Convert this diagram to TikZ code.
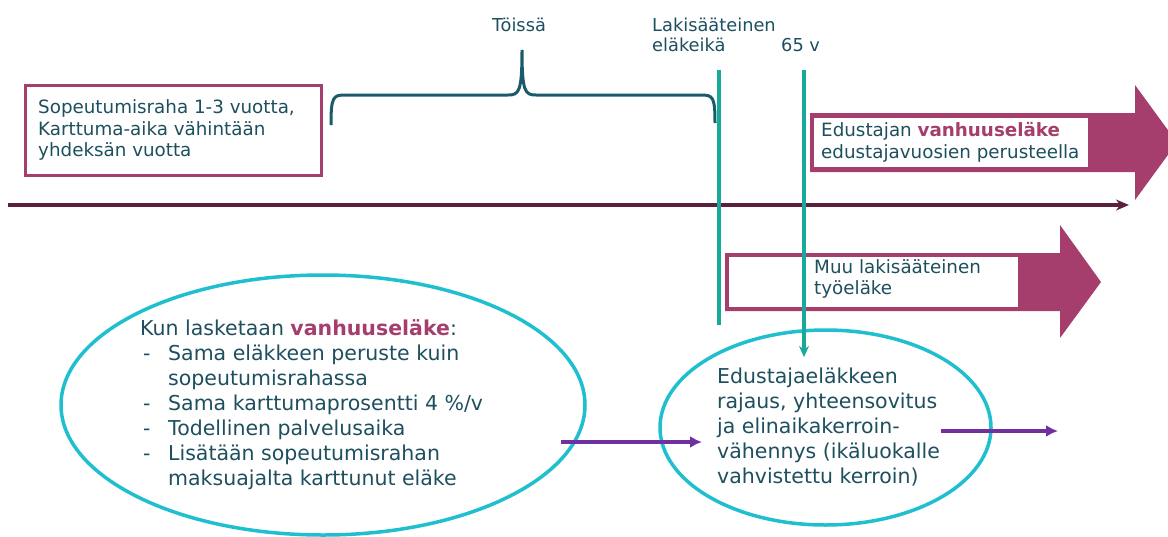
\documentclass[tikz,border=0pt]{standalone}
\usepackage{fontspec}
\setmainfont{DejaVu Sans}
\usetikzlibrary{arrows.meta,shapes.geometric}
\definecolor{txt}{HTML}{1D4F5E}
\definecolor{mag}{HTML}{A53D6D}
\definecolor{bracec}{HTML}{1A5A6B}
\definecolor{grn}{HTML}{18A999}
\definecolor{cyn}{HTML}{1FBFD0}
\definecolor{purp}{HTML}{7030A0}
\definecolor{tline}{HTML}{5C1F3E}
\newcommand\dashitem{\makebox[28pt][l]{\hspace{3pt}-}}
\begin{document}
\begin{tikzpicture}[x=1pt,y=-1pt,
  lbl/.style={text=txt, inner sep=0pt, font=\fontsize{18.3}{21.5}\selectfont, align=left},
  toplbl/.style={text=txt, inner sep=0pt, font=\fontsize{17.8}{20.5}\selectfont, align=left},
  big/.style={text=txt, inner sep=0pt, font=\fontsize{20.5}{25}\selectfont, align=left},
  magbox/.style={draw=mag, line width=3pt, fill=white, rectangle, inner sep=0pt},
  whitebox/.style={fill=white, draw=none, rectangle, inner sep=0pt},
  ell/.style={ellipse, draw=cyn, line width=3.5pt, inner sep=0pt},
  gline/.style={draw=grn, line width=3.2pt},
  parrow/.style={draw=purp, line width=4pt, -{Latex[length=12pt,width=12pt]}},
  bracepath/.style={draw=bracec, line width=3pt}
]
\useasboundingbox (0,0) rectangle (1168,536);
\clip (0,0) rectangle (1168,536);

% top labels
\node[toplbl] (toissa) at (519,25) {Töissä};
\node[toplbl, anchor=west] (lakis) at (652,35) {Lakisääteinen\\eläkeikä};
\node[toplbl, anchor=west] (v65) at (781,45) {65 v};

% left box
\node[magbox, minimum width=296pt, minimum height=90pt] (sopeu) at (173,130) {};
\node[lbl, anchor=west] (sopeutxt) at (38,130) {Sopeutumisraha 1-3 vuotta,\\Karttuma-aika vähintään\\yhdeksän vuotta};

% brace
\draw[bracepath] (331,125) .. controls (331,97) and (333,95) .. (345,95) -- (508,95)
  .. controls (519,95) and (522,92) .. (522,50)
  .. controls (522,92) and (525,95) .. (536,95) -- (701,95)
  .. controls (713,95) and (715,97) .. (715,123);

% timeline
\coordinate (tstart) at (8,205);
\coordinate (tend) at (1129,205);
\draw[tline, line width=4pt, -{Stealth[length=13pt,width=11pt]}] (tstart) -- (tend);

% arrow 1
\fill[mag] (810,113) -- (1135,113) -- (1135,85) -- (1177,142.5) -- (1135,200) -- (1135,172) -- (810,172) -- cycle;
\node[whitebox, minimum width=274pt, minimum height=49pt] (edu) at (951,142.5) {};
\node[lbl, anchor=west] (edutxt) at (821,142.5) {Edustajan \textcolor{mag}{\textbf{vanhuuseläke}}\\edustajavuosien perusteella};

% arrow 2
\fill[mag] (725,253) -- (1060,253) -- (1060,225) -- (1101,282) -- (1060,338) -- (1060,311) -- (725,311) -- cycle;
\node[whitebox, minimum width=289pt, minimum height=50pt] (muu) at (873.5,282) {};
\node[lbl, anchor=west] (muutxt) at (814,279) {Muu lakisääteinen\\työeläke};

% ellipses
\node[ell, minimum width=524pt, minimum height=260pt] (leftell) at (323,405) {};
\node[big, anchor=west] (lefttxt) at (140,405) {Kun lasketaan \textcolor{mag}{\textbf{vanhuuseläke}}:\\
\dashitem Sama eläkkeen peruste kuin\\
\hspace*{28pt}sopeutumisrahassa\\
\dashitem Sama karttumaprosentti 4 \%/v\\
\dashitem Todellinen palvelusaika\\
\dashitem Lisätään sopeutumisrahan\\
\hspace*{28pt}maksuajalta karttunut eläke};

\node[ell, minimum width=331pt, minimum height=195pt] (rightell) at (825.5,427.5) {};
\node[big, anchor=west] (righttxt) at (717,427.5) {Edustajaeläkkeen\\rajaus, yhteensovitus\\ja elinaikakerroin-\\vähennys (ikäluokalle\\vahvistettu kerroin)};

% green lines
\coordinate (g1top) at (719,70);
\coordinate (g1bot) at (719,325);
\draw[gline] (g1top) -- (g1bot);
\coordinate (g2top) at (804,70);
\coordinate (g2bot) at (804,357);
\draw[gline, -{Stealth[length=11pt,width=10pt]}] (g2top) -- (g2bot);

% purple arrows
\coordinate (pin1) at (561,442);
\coordinate (pin2) at (702,442);
\draw[parrow] (pin1) -- (pin2);
\coordinate (pout1) at (941,431);
\coordinate (pout2) at (1058,431);
\draw[parrow] (pout1) -- (pout2);
\end{tikzpicture}
\end{document}
